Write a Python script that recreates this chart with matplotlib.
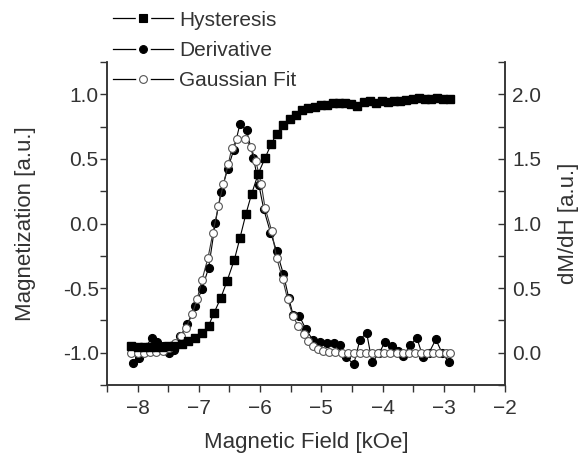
import matplotlib
matplotlib.use("Agg")
from matplotlib import pyplot as plt
from matplotlib.lines import Line2D
from matplotlib.legend_handler import HandlerTuple
from matplotlib.ticker import MultipleLocator

plt.rcParams['font.family'] = ['Liberation Sans', 'DejaVu Sans']

# Hysteresis (left axis, magnetization)
hyst_x = [-8.10, -8.00, -7.90, -7.80, -7.70, -7.60, -7.50, -7.40, -7.28, -7.17,
          -7.06, -6.95, -6.84, -6.75, -6.64, -6.54, -6.42, -6.33, -6.23, -6.14,
          -6.03, -5.92, -5.82, -5.73, -5.62, -5.51, -5.41, -5.31, -5.21, -5.11,
          -5.01, -4.91, -4.81, -4.71, -4.61, -4.51, -4.41, -4.31, -4.21, -4.11,
          -4.01, -3.91, -3.81, -3.71, -3.61, -3.51, -3.41, -3.31, -3.21, -3.11,
          -3.01, -2.90]
hyst_m = [-0.95, -0.955, -0.955, -0.955, -0.955, -0.955, -0.95, -0.945, -0.935, -0.91,
          -0.885, -0.847, -0.79, -0.69, -0.574, -0.446, -0.28, -0.115, 0.076, 0.226,
          0.386, 0.505, 0.613, 0.696, 0.762, 0.81, 0.84, 0.875, 0.895, 0.905,
          0.915, 0.92, 0.93, 0.935, 0.93, 0.925, 0.912, 0.94, 0.945, 0.935,
          0.945, 0.94, 0.945, 0.95, 0.955, 0.96, 0.97, 0.96, 0.965, 0.97,
          0.965, 0.96]

# Derivative (right axis)
der_x = [-8.08, -7.98, -7.88, -7.77, -7.68, -7.58, -7.49, -7.40, -7.30, -7.19,
         -7.06, -6.95, -6.84, -6.73, -6.64, -6.53, -6.43, -6.33, -6.22, -6.11,
         -6.02, -5.94, -5.83, -5.73, -5.62, -5.53, -5.46, -5.36, -5.25, -5.14,
         -5.02, -4.91, -4.80, -4.69, -4.59, -4.47, -4.37, -4.26, -4.17, -4.05,
         -3.96, -3.85, -3.75, -3.66, -3.55, -3.44, -3.34, -3.24, -3.13, -3.03,
         -2.92]
der_y = [-0.08, -0.04, 0.03, 0.116, 0.082, 0.05, 0.0, 0.02, 0.13, 0.219,
         0.36, 0.49, 0.658, 1.007, 1.24, 1.42, 1.57, 1.767, 1.72, 1.51,
         1.30, 1.11, 0.93, 0.787, 0.61, 0.42, 0.29, 0.285, 0.18, 0.10,
         0.08, 0.077, 0.077, 0.06, -0.035, -0.09, 0.10, 0.155, -0.075, 0.0,
         0.085, 0.05, 0.01, -0.026, 0.06, 0.116, -0.035, 0.0, 0.103, 0.0,
         -0.07]

# Gaussian fit (right axis)
fit_x = [-8.10, -8.00, -7.90, -7.80, -7.70, -7.58, -7.49, -7.39, -7.29, -7.21,
         -7.11, -7.03, -6.95, -6.85, -6.77, -6.68, -6.60, -6.52, -6.46, -6.37,
         -6.24, -6.15, -6.07, -5.98, -5.92, -5.81, -5.73, -5.63, -5.55, -5.46,
         -5.38, -5.29, -5.21, -5.13, -5.06, -4.97, -4.87, -4.77, -4.67, -4.57,
         -4.47, -4.37, -4.27, -4.17, -4.07, -3.97, -3.87, -3.77, -3.67, -3.57,
         -3.47, -3.37, -3.27, -3.17, -3.07, -2.97, -2.90]
fit_y = [0.0, 0.0, 0.0, 0.003, 0.006, 0.012, 0.039, 0.077, 0.129, 0.194,
         0.297, 0.413, 0.56, 0.735, 0.929, 1.135, 1.303, 1.458, 1.588, 1.652,
         1.652, 1.592, 1.484, 1.303, 1.123, 0.942, 0.735, 0.568, 0.413, 0.283,
         0.206, 0.142, 0.09, 0.051, 0.026, 0.012, 0.006, 0.003, 0.0, 0.0,
         0.0, 0.0, 0.0, 0.0, 0.0, 0.0, 0.0, 0.0, 0.0, 0.0,
         0.0, 0.0, 0.0, 0.0, 0.0, 0.0, 0.0]

ink = '#333333'
tick_fs = 15
label_fs = 16

fig = plt.figure(figsize=(5.82, 4.58), dpi=100)
ax = fig.add_axes([107/582, 1 - 385/458, (505 - 107)/582, (385 - 62)/458])
ax2 = ax.twinx()

ax2.plot(der_x, der_y, '-o', color='black', lw=0.8, ms=5.6,
         mfc='black', mec='black', zorder=2)
ax2.plot(fit_x, fit_y, '-o', color='#333333', lw=0.8, ms=5.6,
         mfc='white', mec='#555555', mew=0.8, zorder=3)
ax.plot(hyst_x, hyst_m, '-s', color='black', lw=0.8, ms=5.6,
        mfc='black', mec='black')

ax.set_zorder(ax2.get_zorder() + 1)
ax.patch.set_visible(False)

ax.set_xlim(-8.5, -2)
ax.set_ylim(-1.25, 1.25)
ax2.set_ylim(-0.25, 2.25)

ax.xaxis.set_major_locator(MultipleLocator(1))
ax.xaxis.set_minor_locator(MultipleLocator(0.5))
ax.yaxis.set_major_locator(MultipleLocator(0.5))
ax.yaxis.set_minor_locator(MultipleLocator(0.25))
ax2.yaxis.set_major_locator(MultipleLocator(0.5))
ax2.yaxis.set_minor_locator(MultipleLocator(0.25))
ax.yaxis.set_major_formatter(plt.FuncFormatter(lambda v, p: f'{v:.1f}'))
ax2.yaxis.set_major_formatter(plt.FuncFormatter(lambda v, p: f'{v:.1f}'))

for a in (ax, ax2):
    a.spines['top'].set_visible(False)
    for s in a.spines.values():
        s.set_color(ink)
        s.set_linewidth(1.1)

ax.tick_params(axis='both', which='both', direction='out', color=ink,
               labelcolor=ink, labelsize=tick_fs, width=1.0, length=5)
ax.tick_params(axis='y', pad=1)
ax.tick_params(axis='x', pad=5)
ax2.tick_params(axis='y', which='both', direction='in', color=ink,
                labelcolor=ink, labelsize=tick_fs, width=1.0, length=5, pad=5)

ax.set_xlabel('Magnetic Field [kOe]', fontsize=label_fs, color=ink, labelpad=10)
ax.set_ylabel('Magnetization [a.u.]', fontsize=label_fs, color=ink, labelpad=19)
ax2.set_ylabel('dM/dH [a.u.]', fontsize=label_fs, color=ink, labelpad=12)


def legend_handle(marker, fc):
    # line with a small white gap around the symbol, then the symbol itself
    gap = Line2D([], [], color='black', lw=0.9, marker=marker, ms=9.5,
                 mfc='white', mec='white')
    sym = Line2D([], [], ls='none', marker=marker, ms=5.6, mfc=fc,
                 mec='black' if fc == 'black' else '#555555', mew=0.8)
    return (gap, sym)


handles = [legend_handle('s', 'black'), legend_handle('o', 'black'),
           legend_handle('o', 'white')]
labels = ['Hysteresis', 'Derivative', 'Gaussian Fit']
fig.legend(handles, labels, loc='upper left',
           handler_map={tuple: HandlerTuple(ndivide=1, pad=0)},
           bbox_to_anchor=(98/582, 1 + 4/458), frameon=False,
           fontsize=tick_fs, handlelength=2.9, handletextpad=0.3,
           labelspacing=0.55, borderpad=0.2, labelcolor=ink)

fig.savefig('out.png', dpi=100)
